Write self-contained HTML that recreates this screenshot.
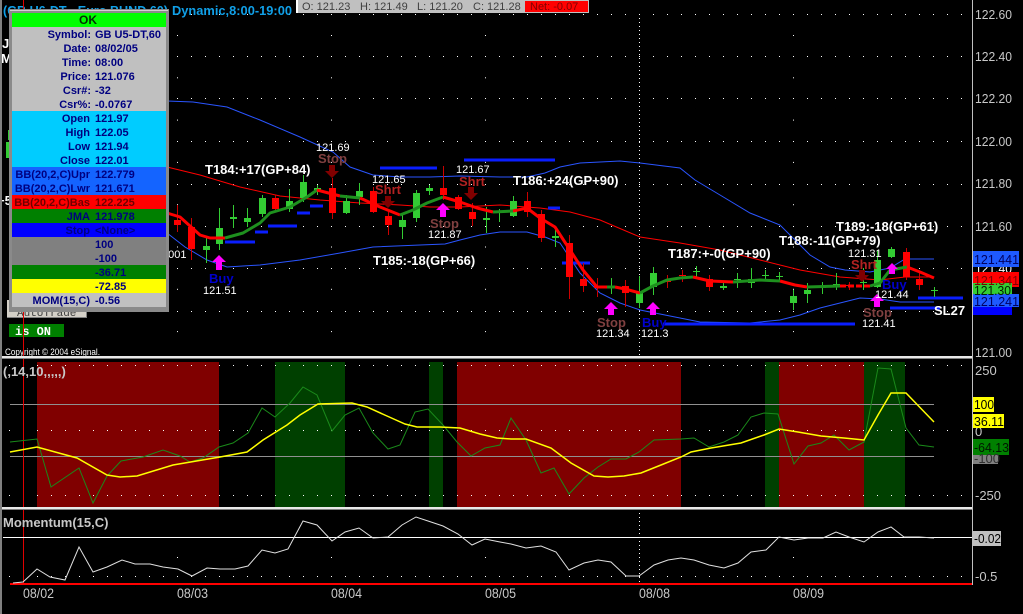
<!DOCTYPE html>
<html><head><meta charset="utf-8"><style>
html,body{margin:0;padding:0;background:#000;}
svg{display:block;font-family:"Liberation Sans",Arial,sans-serif;}
</style></head><body>
<svg width="1023" height="614" viewBox="0 0 1023 614" xmlns="http://www.w3.org/2000/svg">
<defs>
<pattern id="dp" x="23" y="0" width="14" height="1" patternUnits="userSpaceOnUse"><rect width="1" height="1" fill="#fff"/></pattern>
<pattern id="vp" x="0" y="35" width="1" height="42.3" patternUnits="userSpaceOnUse"><rect width="1" height="1" fill="#fff"/></pattern>
</defs>
<rect width="1023" height="614" fill="#000"/>

<!-- main panel dot grid -->
<g fill="url(#dp)">
<rect x="9" y="14" width="962" height="1"/>
<rect x="9" y="56" width="962" height="1"/>
<rect x="9" y="98" width="962" height="1"/>
<rect x="9" y="141" width="962" height="1"/>
<rect x="9" y="184" width="962" height="1"/>
<rect x="9" y="226" width="962" height="1"/>
<rect x="9" y="268" width="962" height="1"/>
<rect x="9" y="311" width="962" height="1"/>
<rect x="9" y="365" width="962" height="1"/>
<rect x="9" y="430" width="962" height="1"/>
<rect x="9" y="495" width="962" height="1"/>
<rect x="9" y="576" width="962" height="1"/>
</g>
<g fill="url(#vp)">
<rect x="23" y="20" width="1" height="330"/>
<rect x="177" y="20" width="1" height="330"/>
<rect x="331" y="20" width="1" height="330"/>
<rect x="485" y="20" width="1" height="330"/>
<rect x="793" y="20" width="1" height="330"/>
</g>
<g fill="#fff">
<rect x="23" y="557" width="1" height="1"/><rect x="177" y="557" width="1" height="1"/><rect x="331" y="557" width="1" height="1"/><rect x="485" y="557" width="1" height="1"/><rect x="793" y="557" width="1" height="1"/>
</g>
<line x1="639.5" y1="14" x2="639.5" y2="356" stroke="#fff" stroke-width="1" stroke-dasharray="1 3"/>
<line x1="639.5" y1="513" x2="639.5" y2="584" stroke="#fff" stroke-width="1" stroke-dasharray="1 3"/>

<!-- Bollinger bands -->
<g fill="none" stroke-width="1">
<polyline stroke="#2a55ff" points="167,101 193,102 227,107 260,120 300,137 333,152 350,167 373,175 400,177 430,177 460,176 500,177 527,177 545,173 560,167 580,163 620,161 640,163 680,168 695,180 720,195 750,213 780,225 795,240 810,255 830,267 845,270 870,272 890,268 905,259 934,259"/>
<polyline stroke="#2a55ff" points="167,233 185,247 207,260 227,267 260,265 300,260 340,253 373,247 420,245 445,244 460,240 480,235 500,232 527,232 545,237 560,243 580,273 600,293 620,303 640,310 670,316 700,322 750,323 780,320 800,315 820,308 840,303 860,298 880,299 900,302 934,302"/>
<polyline stroke="#ff0000" points="167,167 200,175 240,187 280,196 320,200 360,203 400,205 430,207 460,207 500,205 540,208 570,212 600,220 640,237 680,243 720,250 760,260 800,270 840,277 880,280 905,277 934,277"/>
</g>

<!-- stop lines -->
<g stroke="#0a1eff" stroke-width="3">
<line x1="225" y1="242" x2="255" y2="242"/>
<line x1="255" y1="232" x2="268" y2="232"/>
<line x1="268" y1="226" x2="297" y2="226"/>
<line x1="297" y1="213" x2="310" y2="213"/>
<line x1="310" y1="206" x2="323" y2="206"/>
<line x1="380" y1="168" x2="437" y2="168"/>
<line x1="464" y1="160" x2="555" y2="160"/>
<line x1="548" y1="208" x2="560" y2="208"/>
<line x1="562" y1="263" x2="590" y2="263"/>
<line x1="663" y1="324" x2="855" y2="324"/>
<line x1="890" y1="308" x2="940" y2="308"/>
<line x1="918" y1="298" x2="963" y2="298"/>
</g>

<!-- candles -->
<g stroke="#33cc33" stroke-width="1">
<line x1="206.5" y1="237" x2="206.5" y2="263"/><line x1="219.5" y1="208" x2="219.5" y2="250"/><line x1="233.5" y1="205" x2="233.5" y2="228"/><line x1="247.5" y1="208" x2="247.5" y2="227"/><line x1="262.5" y1="195" x2="262.5" y2="217"/><line x1="289.5" y1="189" x2="289.5" y2="212"/><line x1="303.5" y1="175" x2="303.5" y2="202"/><line x1="317.5" y1="185" x2="317.5" y2="195"/><line x1="346.5" y1="195" x2="346.5" y2="214"/><line x1="359.5" y1="183" x2="359.5" y2="205"/><line x1="402.5" y1="215" x2="402.5" y2="239"/><line x1="416.5" y1="190" x2="416.5" y2="222"/><line x1="429.5" y1="185" x2="429.5" y2="195"/><line x1="486.5" y1="207" x2="486.5" y2="233"/><line x1="499.5" y1="209" x2="499.5" y2="222"/><line x1="513.5" y1="196" x2="513.5" y2="217"/><line x1="555.5" y1="227" x2="555.5" y2="247"/><line x1="611.5" y1="278" x2="611.5" y2="294"/><line x1="639.5" y1="276" x2="639.5" y2="308"/><line x1="653.5" y1="267" x2="653.5" y2="295"/><line x1="696.5" y1="266" x2="696.5" y2="277"/><line x1="723.5" y1="282" x2="723.5" y2="290"/><line x1="737.5" y1="273" x2="737.5" y2="288"/><line x1="751.5" y1="268" x2="751.5" y2="288"/><line x1="765.5" y1="270" x2="765.5" y2="280"/><line x1="779.5" y1="272" x2="779.5" y2="282"/><line x1="793.5" y1="290" x2="793.5" y2="310"/><line x1="807.5" y1="283" x2="807.5" y2="303"/><line x1="822.5" y1="282" x2="822.5" y2="294"/><line x1="836.5" y1="273" x2="836.5" y2="290"/><line x1="863.5" y1="268" x2="863.5" y2="290"/><line x1="877.5" y1="250" x2="877.5" y2="288"/><line x1="891.5" y1="247" x2="891.5" y2="258"/><line x1="934.5" y1="287" x2="934.5" y2="297"/>
</g>
<g fill="#33cc33">
<rect x="203" y="246" width="7" height="4"/><rect x="216" y="228" width="7" height="16"/><rect x="230" y="217" width="7" height="2"/><rect x="244" y="218" width="7" height="4"/><rect x="259" y="198" width="7" height="16"/><rect x="286" y="201" width="7" height="8"/><rect x="300" y="182" width="7" height="16"/><rect x="314" y="188" width="7" height="2"/><rect x="343" y="201" width="7" height="12"/><rect x="356" y="191" width="7" height="6"/><rect x="399" y="220" width="7" height="7"/><rect x="413" y="193" width="7" height="25"/><rect x="426" y="188" width="7" height="3"/><rect x="483" y="218" width="7" height="2"/><rect x="496" y="211" width="7" height="2"/><rect x="510" y="201" width="7" height="15"/><rect x="552" y="236" width="7" height="2"/><rect x="608" y="286" width="7" height="2"/><rect x="636" y="292" width="7" height="11"/><rect x="650" y="273" width="7" height="14"/><rect x="693" y="271" width="7" height="1"/><rect x="720" y="286" width="7" height="2"/><rect x="734" y="279" width="7" height="1"/><rect x="748" y="279" width="7" height="4"/><rect x="762" y="275" width="7" height="1"/><rect x="776" y="276" width="7" height="1"/><rect x="790" y="296" width="7" height="7"/><rect x="804" y="290" width="7" height="4"/><rect x="819" y="287" width="7" height="1"/><rect x="833" y="284" width="7" height="2"/><rect x="860" y="282" width="7" height="1"/><rect x="874" y="260" width="7" height="27"/><rect x="888" y="249" width="7" height="8"/><rect x="931" y="290" width="7" height="1"/>
</g>
<g stroke="#cc0000" stroke-width="1">
<line x1="177.5" y1="205" x2="177.5" y2="232"/><line x1="191.5" y1="218" x2="191.5" y2="260"/><line x1="275.5" y1="195" x2="275.5" y2="212"/><line x1="332.5" y1="178" x2="332.5" y2="219"/><line x1="373.5" y1="187" x2="373.5" y2="213"/><line x1="388.5" y1="212" x2="388.5" y2="235"/><line x1="443.5" y1="166" x2="443.5" y2="200"/><line x1="458.5" y1="195" x2="458.5" y2="210"/><line x1="472.5" y1="203" x2="472.5" y2="226"/><line x1="527.5" y1="192" x2="527.5" y2="217"/><line x1="541.5" y1="210" x2="541.5" y2="242"/><line x1="569.5" y1="235" x2="569.5" y2="299"/><line x1="583.5" y1="263" x2="583.5" y2="292"/><line x1="597.5" y1="278" x2="597.5" y2="297"/><line x1="625.5" y1="280" x2="625.5" y2="307"/><line x1="667.5" y1="275" x2="667.5" y2="288"/><line x1="682.5" y1="270" x2="682.5" y2="282"/><line x1="709.5" y1="275" x2="709.5" y2="291"/><line x1="849.5" y1="282" x2="849.5" y2="290"/><line x1="906.5" y1="248" x2="906.5" y2="280"/><line x1="919.5" y1="273" x2="919.5" y2="290"/>
</g>
<g fill="#ff0000">
<rect x="174" y="220" width="7" height="5"/><rect x="188" y="227" width="7" height="22"/><rect x="272" y="198" width="7" height="11"/><rect x="329" y="188" width="7" height="25"/><rect x="370" y="191" width="7" height="21"/><rect x="385" y="216" width="7" height="9"/><rect x="440" y="188" width="7" height="7"/><rect x="455" y="197" width="7" height="12"/><rect x="469" y="212" width="7" height="7"/><rect x="524" y="201" width="7" height="11"/><rect x="538" y="214" width="7" height="24"/><rect x="566" y="243" width="7" height="34"/><rect x="580" y="279" width="7" height="7"/><rect x="594" y="286" width="7" height="2"/><rect x="622" y="286" width="7" height="7"/><rect x="664" y="281" width="7" height="1"/><rect x="679" y="275" width="7" height="1"/><rect x="706" y="279" width="7" height="8"/><rect x="846" y="285" width="7" height="1"/><rect x="903" y="252" width="7" height="25"/><rect x="916" y="279" width="7" height="6"/>
</g>

<!-- JMA thick line -->
<g fill="none" stroke-width="3" stroke-linejoin="round">
<polyline stroke="#ff0000" points="167,213 180,217 200,235 210,238 225,238"/>
<polyline stroke="#1e901e" points="225,238 243,233 260,223 270,213 290,207 307,197 317,190"/>
<polyline stroke="#ff0000" points="317,190 340,196"/>
<polyline stroke="#1e901e" points="340,196 360,198"/>
<polyline stroke="#ff0000" points="360,198 380,207 400,215"/>
<polyline stroke="#1e901e" points="400,215 413,210 427,203 443,197"/>
<polyline stroke="#ff0000" points="443,197 460,202 477,208 493,212"/>
<polyline stroke="#1e901e" points="493,212 513,211"/>
<polyline stroke="#ff0000" points="513,211 527,208 540,218 555,227 570,250 583,270 597,287 607,287"/>
<polyline stroke="#1e901e" points="607,287 615,287"/>
<polyline stroke="#ff0000" points="615,287 625,289 640,293"/>
<polyline stroke="#1e901e" points="640,293 653,286 667,280 680,278 693,277"/>
<polyline stroke="#ff0000" points="693,277 710,281 733,282"/>
<polyline stroke="#1e901e" points="733,282 760,280 780,281"/>
<polyline stroke="#ff0000" points="780,281 795,285 807,287"/>
<polyline stroke="#1e901e" points="807,287 840,286"/>
<polyline stroke="#ff0000" points="840,286 870,286" stroke-dasharray="6 2"/>
<polyline stroke="#1e901e" points="870,286 880,283 890,270 907,267"/>
<polyline stroke="#ff0000" points="907,267 920,272 934,278"/>
</g>

<!-- arrows -->
<g fill="#ff00ff">
<polygon points="219,255 226,262 222,262 222,270 216,270 216,262 212,262"/>
<polygon points="443,203 450,210 446,210 446,217 440,217 440,210 436,210"/>
<polygon points="611,302 618,309 614,309 614,315 608,315 608,309 604,309"/>
<polygon points="653,302 660,309 656,309 656,315 650,315 650,309 646,309"/>
<polygon points="892,263 898,269 895,269 895,274 889,274 889,269 886,269"/>
<polygon points="877,294 884,301 880,301 880,307 874,307 874,301 870,301"/>
</g>
<g fill="#800000">
<polygon points="332,178 339,171 335,171 335,165 329,165 329,171 325,171"/>
<polygon points="388,208 395,201 391,201 391,196 385,196 385,201 381,201"/>
<polygon points="471,200 478,193 474,193 474,187 468,187 468,193 464,193"/>
<polygon points="862,282 869,275 865,275 865,270 859,270 859,275 855,275"/>
</g>

<!-- annotations -->
<g font-weight="bold" font-size="13" fill="#fff">
<text x="205" y="174">T184:+17(GP+84)</text>
<text x="513" y="185">T186:+24(GP+90)</text>
<text x="373" y="265">T185:-18(GP+66)</text>
<text x="668" y="258">T187:+-0(GP+90)</text>
<text x="779" y="245">T188:-11(GP+79)</text>
<text x="836" y="231">T189:-18(GP+61)</text>
<text x="934" y="315">SL27</text>
</g>
<g font-size="11" fill="#fff">
<text x="316" y="151">121.69</text>
<text x="372" y="183">121.65</text>
<text x="456" y="173">121.67</text>
<text x="428" y="238">121.87</text>
<text x="203" y="294">121.51</text>
<text x="162" y="258">0001</text>
<text x="848" y="257">121.31</text>
<text x="875" y="298">121.44</text>
<text x="862" y="327">121.41</text>
<text x="596" y="337">121.34</text>
<text x="641" y="337">121.3</text>
</g>
<g font-weight="bold" font-size="13">
<text x="318" y="163" fill="#804040">Stop</text>
<text x="430" y="228" fill="#804040">Stop</text>
<text x="863" y="317" fill="#804040">Stop</text>
<text x="597" y="327" fill="#804040">Stop</text>
<text x="375" y="194" fill="#b22222">Shrt</text>
<text x="459" y="186" fill="#b22222">Shrt</text>
<text x="851" y="269" fill="#b22222">Shrt</text>
<text x="209" y="283" fill="#0000cc">Buy</text>
<text x="882" y="289" fill="#0000cc">Buy</text>
<text x="642" y="327" fill="#0000cc">Buy</text>
</g>

<!-- left edge bits -->
<g font-weight="bold" font-size="13" fill="#fff">
<text x="2" y="48">J</text>
<text x="1" y="63">M</text>
<text x="-3" y="205">+5</text>
</g>
<rect x="8" y="130" width="2" height="10" fill="#33cc33"/>
<rect x="6" y="142" width="4" height="16" fill="#33cc33"/>

<!-- title -->
<text x="3" y="15" font-weight="bold" font-size="13" fill="#10a0e8" textLength="165" lengthAdjust="spacingAndGlyphs">(GB U6-DT - Euro BUND 60)</text>
<text x="172" y="15" font-weight="bold" font-size="13" fill="#10a0e8" textLength="120" lengthAdjust="spacingAndGlyphs">Dynamic,8:00-19:00</text>

<!-- OHLC bar -->
<rect x="296" y="0" width="293" height="13" fill="#c0c0c0"/>
<rect x="296" y="0" width="2" height="13" fill="#fff"/>
<rect x="525" y="1" width="63" height="11" fill="#ff0000"/>
<g font-size="11" fill="#404040">
<text x="302" y="10">O: 121.23</text>
<text x="360" y="10">H: 121.49</text>
<text x="417" y="10">L: 121.20</text>
<text x="473" y="10">C: 121.28</text>
<text x="530" y="10" fill="#800000">Net: -0.07</text>
</g>

<!-- AutoTrade / is ON -->
<rect x="7" y="300" width="80" height="18" fill="#d4d0c8"/>
<rect x="7" y="317" width="80" height="1" fill="#808080"/>
<rect x="86" y="300" width="1" height="18" fill="#808080"/>
<text x="17" y="316" font-family="Liberation Mono,monospace" font-size="11" fill="#404040">AutoTrade</text>
<rect x="9" y="324" width="55" height="13" fill="#008000"/>
<text x="15" y="335" font-family="Liberation Mono,monospace" font-weight="bold" font-size="12" fill="#fff">is ON</text>
<text x="5" y="355" font-size="9" fill="#fff" textLength="95" lengthAdjust="spacingAndGlyphs">Copyright © 2004 eSignal.</text>

<!-- red cursor line -->
<line x1="23.5" y1="0" x2="23.5" y2="584" stroke="#e00000" stroke-width="1"/>

<!-- data window -->
<rect x="9" y="9" width="160" height="303" fill="#8a8a8a"/>
<rect x="10" y="10" width="158" height="1" fill="#d0d0d0"/>
<rect x="12" y="13" width="154" height="14" fill="#00ff00"/>
<rect x="12" y="27" width="154" height="84" fill="#c0c0c0"/>
<rect x="12" y="111" width="154" height="56" fill="#00ccff"/>
<rect x="12" y="167" width="154" height="28" fill="#1464ff"/>
<rect x="12" y="195" width="154" height="14" fill="#ff0000"/>
<rect x="12" y="209" width="154" height="14" fill="#008000"/>
<rect x="12" y="223" width="154" height="14" fill="#0000ff"/>
<rect x="12" y="237" width="154" height="28" fill="#808080"/>
<rect x="12" y="265" width="154" height="14" fill="#008000"/>
<rect x="12" y="279" width="154" height="14" fill="#ffff00"/>
<rect x="12" y="293" width="154" height="14" fill="#c0c0c0"/>
<text x="88" y="24" font-weight="bold" font-size="12" fill="#003000" text-anchor="middle">OK</text>
<g font-weight="bold" font-size="11" fill="#000080">
<g text-anchor="end">
<text x="91" y="38">Symbol:</text>
<text x="91" y="52">Date:</text>
<text x="91" y="66">Time:</text>
<text x="91" y="80">Price:</text>
<text x="91" y="94">Csr#:</text>
<text x="91" y="108">Csr%:</text>
<text x="90" y="122">Open</text>
<text x="90" y="136">High</text>
<text x="90" y="150">Low</text>
<text x="90" y="164">Close</text>
<text x="90" y="178">BB(20,2,C)Upr</text>
<text x="90" y="192">BB(20,2,C)Lwr</text>
<text x="90" y="206" fill="#700000">BB(20,2,C)Bas</text>
<text x="90" y="220">JMA</text>
<text x="90" y="234">Stop</text>
<text x="90" y="304">MOM(15,C)</text>
</g>
<text x="95" y="38">GB U5-DT,60</text>
<text x="95" y="52">08/02/05</text>
<text x="95" y="66">08:00</text>
<text x="95" y="80">121.076</text>
<text x="95" y="94">-32</text>
<text x="95" y="108">-0.0767</text>
<text x="95" y="122">121.97</text>
<text x="95" y="136">122.05</text>
<text x="95" y="150">121.94</text>
<text x="95" y="164">122.01</text>
<text x="95" y="178">122.779</text>
<text x="95" y="192">121.671</text>
<text x="95" y="206" fill="#700000">122.225</text>
<text x="95" y="220">121.978</text>
<text x="95" y="234">&lt;None&gt;</text>
<text x="95" y="248">100</text>
<text x="95" y="262">-100</text>
<text x="95" y="276">-36.71</text>
<text x="95" y="290">-72.85</text>
<text x="95" y="304">-0.56</text>
</g>

<!-- middle panel -->
<g>
<rect x="37" y="362" width="182" height="145" fill="#800000"/>
<rect x="457" y="362" width="224" height="145" fill="#800000"/>
<rect x="779" y="362" width="85" height="145" fill="#800000"/>
<rect x="275" y="362" width="70" height="145" fill="#004000"/>
<rect x="429" y="362" width="14" height="145" fill="#004000"/>
<rect x="765" y="362" width="14" height="145" fill="#004000"/>
<rect x="864" y="362" width="41" height="145" fill="#004000"/>
</g>
<g fill="url(#dp)">
<rect x="9" y="365" width="962" height="1"/>
<rect x="9" y="430" width="962" height="1"/>
<rect x="9" y="495" width="962" height="1"/>
</g>
<line x1="10" y1="404.5" x2="934" y2="404.5" stroke="#909090"/>
<line x1="10" y1="456.5" x2="934" y2="456.5" stroke="#909090"/>
<line x1="23.5" y1="360" x2="23.5" y2="507" stroke="#e00000"/>
<polyline fill="none" stroke="#1a8a1a" stroke-width="1" points="10,442 37,439 51,487 79,468 93,503 107,476 121,461 143,457 163,450 180,456 190,462 203,458 219,447 233,443 248,433 262,408 275,417 290,403 303,387 317,395 332,431 345,415 359,408 373,433 388,449 400,445 415,412 428,409 443,425 457,442 471,456 485,448 500,445 511,418 526,440 541,473 554,468 569,494 584,478 598,467 611,459 626,459 639,452 654,440 681,439 694,438 709,447 724,442 738,435 751,417 764,413 778,414 794,464 808,446 821,443 834,435 849,450 864,442 878,368 891,369 906,428 919,445 934,447"/>
<polyline fill="none" stroke="#ffff00" stroke-width="1.5" points="10,452 37,447 77,458 107,475 120,477 137,476 173,465 220,457 247,452 263,440 287,425 300,415 318,404 352,403 367,407 387,416 405,424 417,427 440,427 460,428 480,434 497,438 511,439 526,439 551,448 571,463 594,476 608,477 624,476 641,473 661,465 681,457 691,452 711,448 741,443 764,435 779,429 798,432 821,436 844,438 864,440 878,415 891,393 906,393 934,422"/>
<text x="3" y="376" font-weight="bold" font-size="13" fill="#c8c8c8">(,14,10,,,,,)</text>

<!-- separators -->
<rect x="0" y="356" width="972" height="2" fill="#e8e8e8"/>
<rect x="0" y="358" width="972" height="1" fill="#808080"/>
<rect x="0" y="507" width="972" height="2" fill="#e8e8e8"/>
<rect x="0" y="509" width="972" height="1" fill="#808080"/>

<!-- bottom panel -->
<line x1="3" y1="537.5" x2="972" y2="537.5" stroke="#ffffff"/>
<rect x="10" y="583" width="962" height="2" fill="#ff0000"/>
<polyline fill="none" stroke="#e0e0e0" stroke-width="1" points="13,583 23,582 37,569 50,577 65,580 79,547 93,572 107,567 122,560 135,564 150,564 163,567 178,569 192,576 207,568 220,569 235,569 248,566 262,550 275,553 288,549 303,521 317,525 332,541 345,532 359,528 373,538 388,537 402,525 416,517 428,521 443,526 458,534 472,545 485,539 500,542 511,544 526,548 541,546 556,552 569,570 584,563 598,560 611,562 626,576 639,576 654,565 668,560 681,558 694,560 709,565 724,568 738,563 751,552 766,550 779,537 794,540 808,538 823,538 836,532 849,537 864,542 878,532 891,527 904,537 919,537 934,538"/>
<text x="3" y="527" font-weight="bold" font-size="13" fill="#c8c8c8">Momentum(15,C)</text>

<!-- date labels -->
<g font-size="13.5" fill="#c8c8c8">
<text x="23" y="598" textLength="31" lengthAdjust="spacingAndGlyphs">08/02</text>
<text x="177" y="598" textLength="31" lengthAdjust="spacingAndGlyphs">08/03</text>
<text x="331" y="598" textLength="31" lengthAdjust="spacingAndGlyphs">08/04</text>
<text x="485" y="598" textLength="31" lengthAdjust="spacingAndGlyphs">08/05</text>
<text x="639" y="598" textLength="31" lengthAdjust="spacingAndGlyphs">08/08</text>
<text x="793" y="598" textLength="31" lengthAdjust="spacingAndGlyphs">08/09</text>
</g>

<!-- frame lines -->
<rect x="0" y="0" width="2" height="614" fill="#808080"/>
<rect x="972" y="0" width="1" height="585" fill="#c0c0c0"/>

<!-- right axis -->
<g font-size="13" fill="#c8c8c8">
<text x="975" y="19" textLength="37" lengthAdjust="spacingAndGlyphs">122.60</text>
<text x="975" y="61" textLength="37" lengthAdjust="spacingAndGlyphs">122.40</text>
<text x="975" y="103" textLength="37" lengthAdjust="spacingAndGlyphs">122.20</text>
<text x="975" y="146" textLength="37" lengthAdjust="spacingAndGlyphs">122.00</text>
<text x="975" y="188" textLength="37" lengthAdjust="spacingAndGlyphs">121.80</text>
<text x="975" y="231" textLength="37" lengthAdjust="spacingAndGlyphs">121.60</text>
<text x="975" y="273" textLength="37" lengthAdjust="spacingAndGlyphs" fill="#fff">121.40</text>
<text x="975" y="357" textLength="37" lengthAdjust="spacingAndGlyphs">121.00</text>
<text x="975" y="375">250</text>
<text x="975" y="436">0</text>
<text x="975" y="500">-250</text>
<text x="975" y="581">-0.5</text>
</g>
<rect x="973" y="251" width="46" height="16" fill="#1e5aff"/>
<rect x="973" y="272" width="46" height="15" fill="#ff0000"/>
<rect x="973" y="283" width="39" height="13" fill="#33cc33"/>
<rect x="973" y="307" width="39" height="8" fill="#0000ff"/>
<rect x="973" y="294" width="46" height="13" fill="#1e5aff"/>
<g font-size="13">
<text x="974" y="264" fill="#000060" textLength="45" lengthAdjust="spacingAndGlyphs">121.441</text>
<text x="974" y="285" fill="#800000" textLength="45" lengthAdjust="spacingAndGlyphs">121.341</text>
<text x="974" y="295" fill="#002000" textLength="37" lengthAdjust="spacingAndGlyphs">121.30</text>
<text x="974" y="306" fill="#000060" textLength="45" lengthAdjust="spacingAndGlyphs">121.241</text>
</g>
<rect x="973" y="397" width="21" height="15" fill="#ffff00"/>
<rect x="973" y="414" width="31" height="14" fill="#ffff00"/>
<rect x="973" y="448" width="25" height="16" fill="#808080"/>
<rect x="973" y="439" width="36" height="16" fill="#008000"/>
<rect x="973" y="531" width="28" height="15" fill="#c0c0c0"/>
<g font-size="13" fill="#000">
<text x="974" y="409" textLength="20" lengthAdjust="spacingAndGlyphs">100</text>
<text x="974" y="426" textLength="30" lengthAdjust="spacingAndGlyphs">36.11</text>
<text x="974" y="452" textLength="35" lengthAdjust="spacingAndGlyphs" fill="#001800">-64.13</text>
<text x="974" y="463" fill="#303030">-100</text>
<text x="974" y="543" textLength="27" lengthAdjust="spacingAndGlyphs">-0.02</text>
</g>
</svg>
</body></html>
